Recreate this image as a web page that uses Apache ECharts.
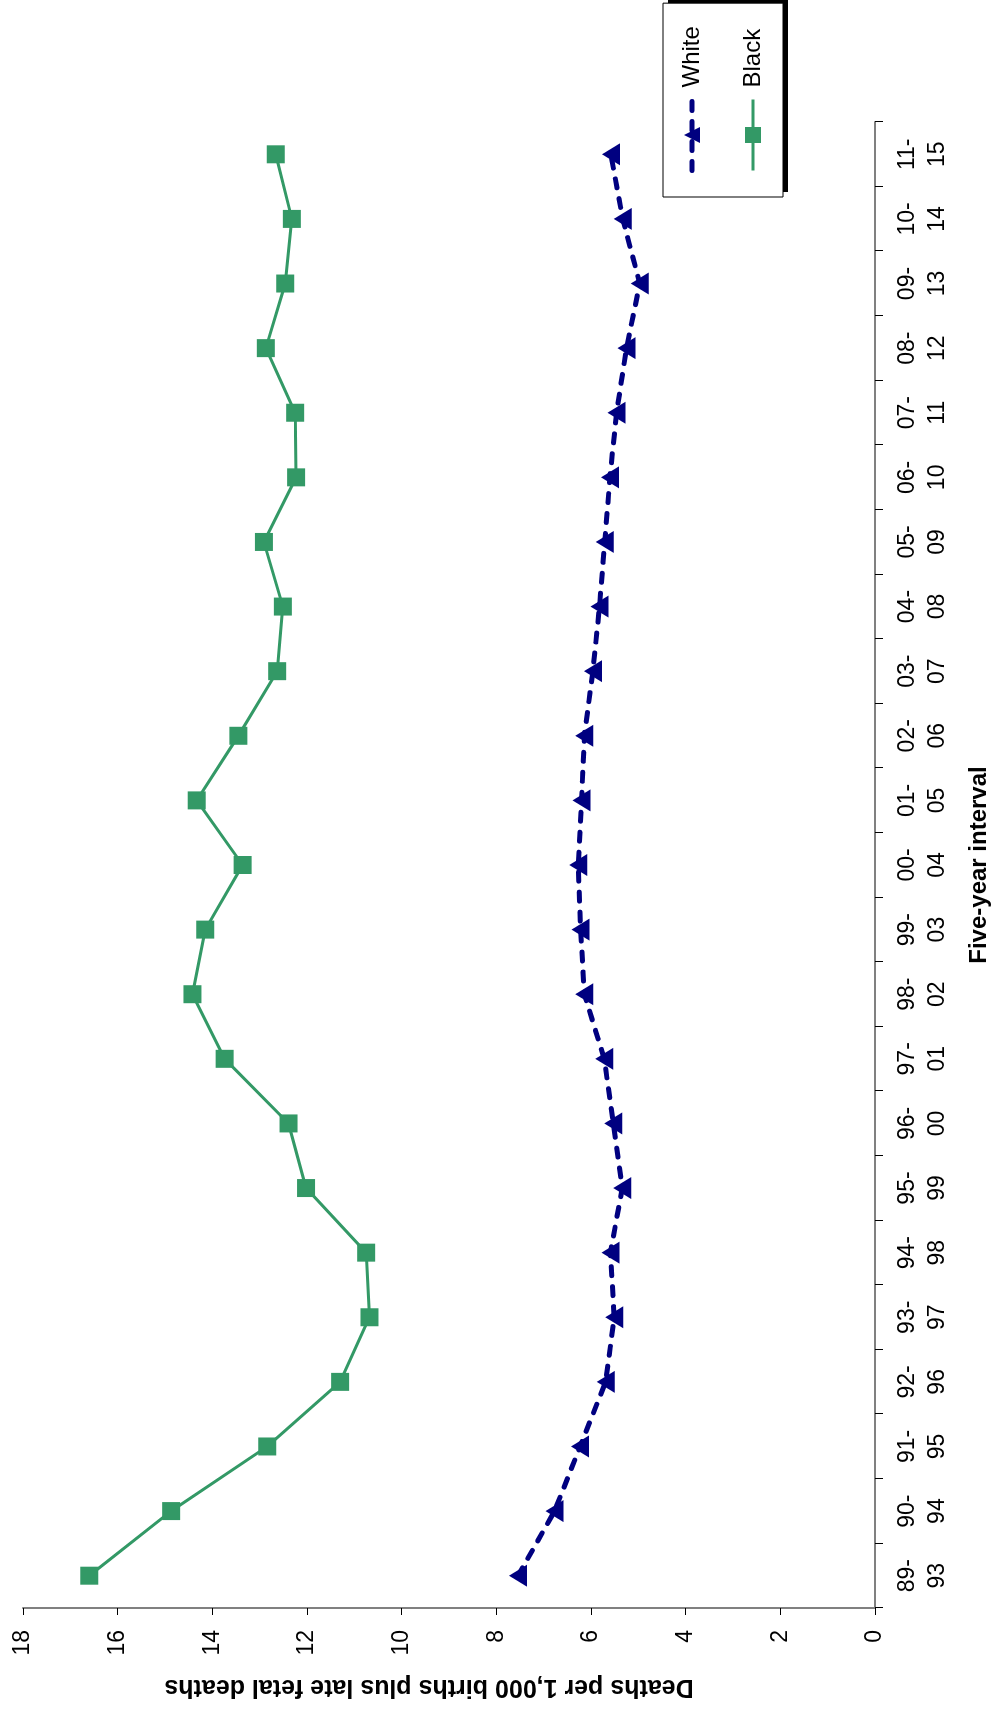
<!DOCTYPE html>
<html>
<head>
<meta charset="utf-8">
<script src="https://cdn.jsdelivr.net/npm/echarts@6/dist/echarts.min.js"></script>
<style>
html,body{margin:0;padding:0;width:997px;height:1711px;overflow:hidden;background:#fff;}
#chart{position:absolute;width:1711px;height:997px;left:-357px;top:357px;transform:rotate(-90deg);transform-origin:50% 50%;}
</style>
</head>
<body>
<div id="chart"></div>
<script>
var categories = ['89-93','90-94','91-95','92-96','93-97','94-98','95-99','96-00','97-01','98-02','99-03','00-04','01-05','02-06','03-07','04-08','05-09','06-10','07-11','08-12','09-13','10-14','11-15'];
var whiteValues = [7.54, 6.77, 6.23, 5.69, 5.51, 5.59, 5.34, 5.53, 5.72, 6.14, 6.22, 6.27, 6.20, 6.14, 5.96, 5.82, 5.71, 5.60, 5.46, 5.25, 4.97, 5.33, 5.58];
var blackValues = [16.60, 14.87, 12.84, 11.30, 10.68, 10.75, 12.02, 12.39, 13.74, 14.42, 14.15, 13.36, 14.33, 13.45, 12.63, 12.51, 12.91, 12.23, 12.25, 12.87, 12.46, 12.32, 12.66];
var seriesNames = ['White', 'Black'];
var valueMin = 0, valueMax = 18, valueStep = 2;

var FONT = 'Arial, "Liberation Sans", sans-serif';
var whiteLine = {color: '#000080', width: 5, type: [9, 11], cap: 'round'};
var blackLine = {color: '#339966', width: 3, type: 'solid'};
var chart = echarts.init(document.getElementById('chart'), null, {renderer: 'canvas'});
chart.setOption({
  animation: false,
  backgroundColor: '#ffffff',
  grid: {left: 103, right: 122, top: 23, bottom: 122, containLabel: false},
  graphic: [{
    type: 'rect',
    z: -1,
    zlevel: 0,
    shape: {x: 1519, y: 668, width: 192, height: 120},
    style: {fill: '#000000'}
  }],
  legend: {
    orient: 'vertical',
    left: 1514,
    top: 663,
    z: 10,
    padding: [17, 23, 18, 24],
    itemWidth: 71,
    itemHeight: 20,
    itemGap: 37,
    backgroundColor: '#ffffff',
    borderColor: '#000000',
    borderWidth: 1,
    borderRadius: 0,
    textStyle: {fontFamily: FONT, fontSize: 24, color: '#000', lineHeight: 24, padding: [0, 0, 0, 7]},
    data: [
      {name: seriesNames[0], lineStyle: {width: 5, type: [9, 11], cap: 'round', color: '#000080'}},
      {name: seriesNames[1], lineStyle: {width: 3, color: '#339966'}}
    ]
  },
  xAxis: {
    type: 'category',
    data: categories,
    boundaryGap: true,
    name: 'Five-year interval',
    nameLocation: 'middle',
    nameGap: 92,
    nameTextStyle: {fontFamily: FONT, fontSize: 24, fontWeight: 'bold', color: '#000'},
    axisLine: {show: true, lineStyle: {color: '#808080', width: 2}},
    axisTick: {show: true, length: 8, alignWithLabel: false, lineStyle: {color: '#000', width: 1}},
    axisLabel: {
      interval: 0, margin: 18, fontFamily: FONT, fontSize: 23, lineHeight: 30, color: '#000',
      formatter: function (v) { return v.replace('-', '-\n'); }
    },
    splitLine: {show: false}
  },
  yAxis: {
    type: 'value',
    min: valueMin,
    max: valueMax,
    interval: valueStep,
    name: 'Deaths per 1,000 births plus late fetal deaths',
    nameLocation: 'middle',
    nameGap: 66,
    nameTextStyle: {fontFamily: FONT, fontSize: 25, fontWeight: 'bold', color: '#000', padding: [0, 0, 0, 40]},
    axisLine: {show: true, lineStyle: {color: '#808080', width: 2}},
    axisTick: {show: true, length: 7, lineStyle: {color: '#000', width: 1}},
    axisLabel: {margin: 22, fontFamily: FONT, fontSize: 23, color: '#000'},
    splitLine: {show: false}
  },
  series: [
    {
      name: seriesNames[0],
      type: 'line',
      data: whiteValues,
      symbol: 'triangle',
      symbolSize: [22, 18],
      itemStyle: {color: '#000080'},
      lineStyle: whiteLine,
      z: 3
    },
    {
      name: seriesNames[1],
      type: 'line',
      data: blackValues,
      symbol: 'rect',
      symbolSize: 18,
      itemStyle: {color: '#339966'},
      lineStyle: blackLine,
      z: 2
    }
  ]
});
</script>
</body>
</html>
